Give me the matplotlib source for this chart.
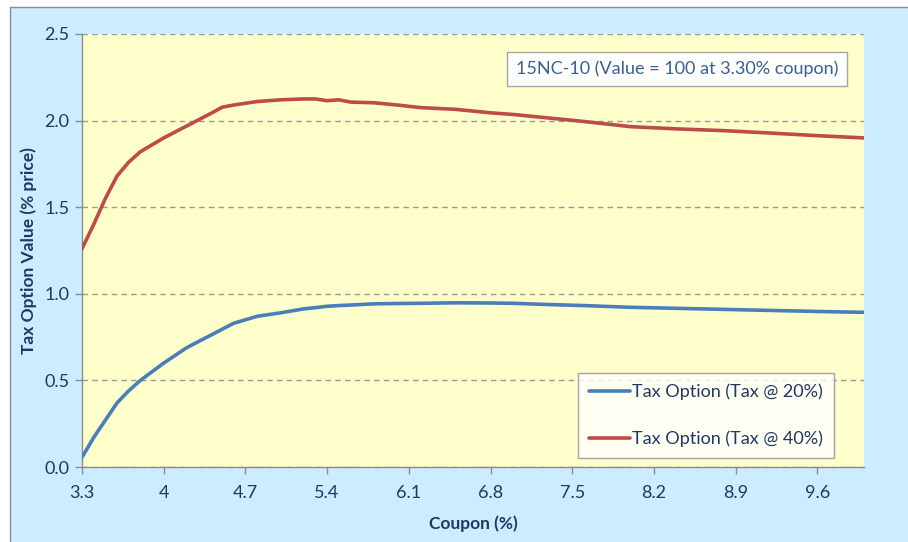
import matplotlib
matplotlib.use("Agg")
import matplotlib.pyplot as plt
from matplotlib.patches import Rectangle

# coupon (%) and tax option values (% price)
coupon = [3.3, 3.4, 3.5, 3.6, 3.7, 3.8, 4.0, 4.2, 4.4, 4.5, 4.6, 4.8, 5.0, 5.2, 5.3,
          5.4, 5.5, 5.6, 5.8, 6.0, 6.2, 6.5, 6.8, 7.0, 7.3, 7.6, 8.0, 8.4, 8.8, 9.2,
          9.6, 10.0]
tax_20 = [0.056, 0.17, 0.27, 0.37, 0.44, 0.50, 0.60, 0.69, 0.76, 0.795, 0.83, 0.87,
          0.89, 0.913, 0.92, 0.928, 0.932, 0.935, 0.942, 0.944, 0.945, 0.948, 0.947,
          0.945, 0.938, 0.932, 0.922, 0.916, 0.91, 0.904, 0.898, 0.893]
tax_40 = [1.26, 1.40, 1.55, 1.68, 1.76, 1.82, 1.90, 1.97, 2.04, 2.077, 2.09, 2.11,
          2.12, 2.125, 2.125, 2.115, 2.12, 2.107, 2.103, 2.09, 2.075, 2.065, 2.045,
          2.035, 2.015, 1.995, 1.965, 1.952, 1.942, 1.928, 1.913, 1.90]
x_ticks = [3.3, 4.0, 4.7, 5.4, 6.1, 6.8, 7.5, 8.2, 8.9, 9.6]
x_tick_labels = ["3.3", "4", "4.7", "5.4", "6.1", "6.8", "7.5", "8.2", "8.9", "9.6"]
y_ticks = [0.0, 0.5, 1.0, 1.5, 2.0, 2.5]

plt.rcParams['font.family'] = ['Lato', 'DejaVu Sans']
text_col = "#1F3864"

fig = plt.figure(figsize=(9.08, 5.42), dpi=100)
fig.patch.set_facecolor("white")
# light blue chart area with a grey frame
fig.patches.append(Rectangle((10 / 908, -0.01), 1.0, 1 - 7 / 542 + 0.01,
                             transform=fig.transFigure, facecolor="#CCECFF",
                             edgecolor="#8C8C8C", linewidth=1.0, zorder=-5))

ax = fig.add_axes([82 / 908, 75 / 542, 782 / 908, 433 / 542])
ax.set_zorder(2)
ax.set_facecolor("#FFFFCC")

ax.plot(coupon, tax_20, color="#4A7EBB", lw=2.6, label="Tax Option (Tax @ 20%)",
        solid_capstyle="round", solid_joinstyle="round", zorder=3)
ax.plot(coupon, tax_40, color="#BE4B48", lw=2.6, label="Tax Option (Tax @ 40%)",
        solid_capstyle="round", solid_joinstyle="round", zorder=3)

ax.set_xlim(3.3, 10.0)
ax.set_ylim(0, 2.5)
ax.set_xticks(x_ticks)
ax.set_xticklabels(x_tick_labels)
ax.set_yticks(y_ticks)
ax.set_yticklabels([f"{v:.1f}" for v in y_ticks])

ax.yaxis.grid(True, linestyle=(0, (4, 3)), color="#999999", lw=1.0)
ax.set_axisbelow(True)
for s in ["top", "right"]:
    ax.spines[s].set_visible(False)
for s in ["left", "bottom"]:
    ax.spines[s].set_color("#8C8C8C")
    ax.spines[s].set_linewidth(1.0)
ax.tick_params(axis="both", colors="#8C8C8C", labelcolor=text_col, labelsize=13,
               length=5, width=1.0, direction="out")
ax.tick_params(axis="x", pad=8)
ax.tick_params(axis="y", pad=4)

ax.set_xlabel("Coupon (%)", fontsize=12.5, fontweight="bold", color=text_col, labelpad=10)
ax.set_ylabel("Tax Option Value (% price)", fontsize=12.5, fontweight="bold",
              color=text_col, labelpad=5)

ax.text(677 / 908, 1 - 69 / 542, "15NC-10 (Value = 100 at 3.30% coupon)",
        transform=fig.transFigure, ha="center", va="center", fontsize=13,
        color="#3B5F8F",
        bbox=dict(boxstyle="square,pad=0.5", facecolor="white", edgecolor="#A6A6A6",
                  linewidth=1.0))

leg = ax.legend(loc="lower right", bbox_to_anchor=(834 / 908, 84 / 542),
                bbox_transform=fig.transFigure, fontsize=13, frameon=True,
                fancybox=False, labelspacing=1.7, handlelength=2.3,
                handletextpad=0.1, borderpad=0.6, borderaxespad=0)
leg.get_frame().set_edgecolor("#8C8C8C")
leg.get_frame().set_linewidth(1.0)
for t in leg.get_texts():
    t.set_color(text_col)

fig.savefig("out.png", dpi=100, facecolor=fig.get_facecolor())
